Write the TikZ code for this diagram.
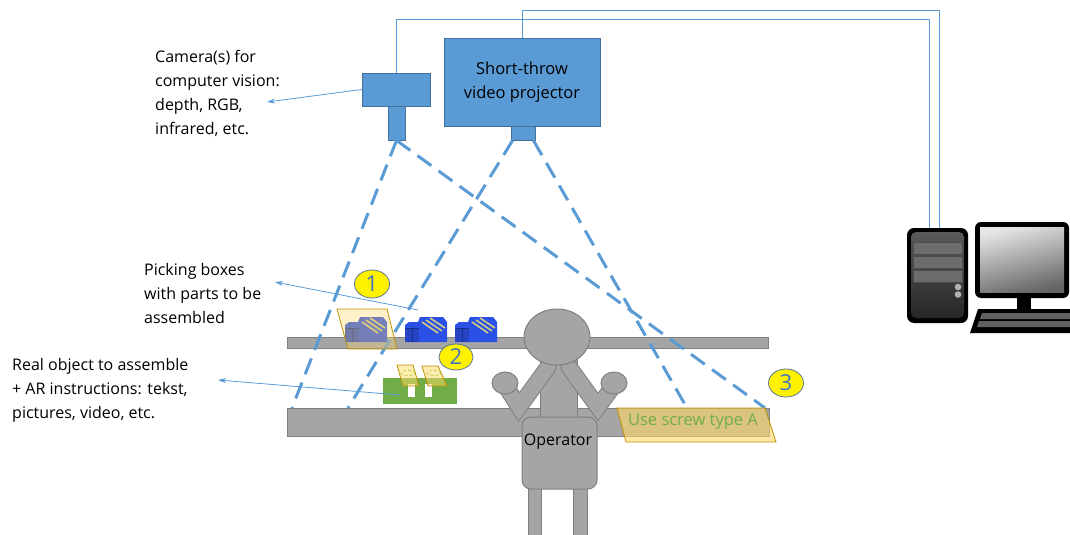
\documentclass[tikz,border=0pt]{standalone}
\usepackage{fontspec}
\setmainfont{Open Sans}
\usetikzlibrary{arrows.meta,shapes.geometric}

\definecolor{boxblue}{HTML}{5B9BD5}
\definecolor{boxedge}{HTML}{41719C}
\definecolor{rackgray}{HTML}{A5A5A5}
\definecolor{rackedge}{HTML}{7F7F7F}
\definecolor{binblue}{HTML}{2B50E6}
\definecolor{noteyellow}{HTML}{FFD966}
\definecolor{noteedge}{HTML}{BF9000}
\definecolor{partgreen}{HTML}{70AD47}
\definecolor{numblue}{HTML}{4472C4}

\tikzset{
    hw/.style={draw=boxedge, fill=boxblue, line width=0.8pt, inner sep=0pt},
    rack/.style={draw=rackedge, fill=rackgray, line width=1pt},
    beam/.style={boxblue, line width=3pt, dash pattern=on 17pt off 9pt},
    wire/.style={boxblue, line width=0.9pt},
    callout/.style={boxblue, line width=0.8pt, -{Stealth[length=8pt,width=5pt]}},
    overlay/.style={draw=noteedge, fill=noteyellow, fill opacity=0.5, line width=0.8pt},
    marker/.style={ellipse, draw=boxedge!60!gray, fill=yellow, inner sep=0pt,
        line width=0.8pt, minimum width=35pt, minimum height=28pt, text=numblue,
        font=\fontsize{22}{22}\selectfont},
    note/.style={anchor=north west, align=left, inner sep=0pt,
        font=\fontsize{16}{24}\selectfont},
    screw/.style={gray!55!yellow!80!white, line width=1.6pt},
    partbin/.pic={
        \fill[binblue] (0,0) -- (0,-17) -- (4,-20) -- (13,-20) -- (15,-25)
            -- (38,-25) -- (42,-20) -- (42,0) -- cycle;
        \fill[binblue!85!black] (0,0) rectangle (14,-14);
        \draw[binblue!60!black, line width=0.5pt] (7,0) -- (7,-14) (0,-14) -- (14,-14);
        \draw[screw] (17,-20) -- (33,-9);
        \draw[screw] (21,-22) -- (37,-11);
        \draw[screw] (25,-24) -- (40,-14);
    }
}

\begin{document}
\begin{tikzpicture}[x=1pt, y=-1pt]
    \useasboundingbox (0,0) rectangle (1070,535);

    % shelf and work table
    \draw[rack] (287,337) rectangle (768,348);
    \draw[rack] (287,408) rectangle (769,436);

    % camera and projector
    \node[hw, minimum width=68pt, minimum height=33pt] (cam) at (396,89.5) {};
    \node[hw, minimum width=17pt, minimum height=34pt] (camlens) at (396.5,123) {};
    \node[hw, minimum width=156pt, minimum height=88pt, align=center,
          font=\fontsize{16.5}{24}\selectfont] (proj) at (522,82) {Short-throw\\video projector};
    \node[hw, minimum width=24pt, minimum height=14pt] (projlens) at (523,133) {};

    % computer
    \coordinate (pcin1) at (929,229);
    \coordinate (pcin2) at (939,229);
    \draw[wire] (cam.north) -- ++(0,-53) -| (pcin1);
    \draw[wire] (proj.north) -- ++(0,-27) -| (pcin2);
    \fill[black, rounded corners=7pt] (907,228) rectangle (968,323);
    \shade[top color=gray!70!black, bottom color=black!85, rounded corners=5pt] (911,232) rectangle (964,318);
    \foreach \y in {242,256,270}
        \draw[black!70, fill=gray!85!black] (913,\y) rectangle (962,\y+12);
    \fill[gray!60] (958,287) circle (3.3pt) (958,294.5) circle (3.3pt);
    \fill[black, rounded corners=6pt] (975,222) rectangle (1069,298);
    \shade[top color=gray!20, bottom color=gray!80!black, shading angle=15] (980,227) rectangle (1064,292);
    \fill[black] (1017,297) rectangle (1031,311);
    \fill[black] (978,309) -- (1075,309) -- (1080,333) -- (970,333) -- cycle;
    \fill[gray!75!black] (982,313) -- (1072,313) -- (1074,319) -- (980,319) -- cycle;
    \fill[gray!75!black] (979,321) -- (1075,321) -- (1077,327) -- (977,327) -- cycle;

    % viewing and projection cones
    \coordinate (c1) at (292,408);
    \coordinate (c2) at (765,408);
    \coordinate (p1) at (348,408);
    \coordinate (p2) at (687,408);
    \draw[beam] (camlens.south) -- (c1);
    \draw[beam] (camlens.south) -- (c2);
    \draw[beam] ([xshift=2pt]projlens.south west) -- (p1);
    \draw[beam] ([xshift=-2pt]projlens.south east) -- (p2);

    % picking boxes
    \pic at (345,342) {partbin};
    \pic at (405,342) {partbin};
    \pic at (455,342) {partbin};
    \draw[overlay, fill opacity=0.35] (337,309) -- (387,309) -- (397,349) -- (348,349) -- cycle;

    % real object with projected parts
    \fill[partgreen] (383,378) rectangle (457,404);
    \fill[white] (408,384) rectangle (415,397);
    \fill[white] (425,384) rectangle (432,397);
    \draw[overlay] (397,365) -- (413,365) -- (419,386) -- (403,386) -- cycle;
    \draw[overlay] (422,366) -- (438,366) -- (447,386) -- (428,386) -- cycle;
    \draw[partgreen!60!yellow, densely dashed, line width=0.6pt]
        (408,373) ellipse [x radius=7pt, y radius=2.5pt]
        (434,373) ellipse [x radius=7pt, y radius=2.5pt];

    % operator
    \draw[rack] (528,480) rectangle (541,540);
    \draw[rack] (573,480) rectangle (587,540);
    \draw[rack] (540,355) rectangle (577,420);
    \foreach \s/\e/\h in {548/519/505, 569/598/614} {
        \draw[rackedge, line width=17pt, line cap=round] (\s,367) -- (\e,407) -- (\h,385);
        \draw[rackgray, line width=15pt, line cap=round] (\s,367) -- (\e,407) -- (\h,385);
        \draw[rack] (\h,383) ellipse [x radius=13pt, y radius=11pt];
    }
    \draw[rack] (557,337) ellipse [x radius=33pt, y radius=28pt];
    \draw[rack, rounded corners=9pt] (522,417) rectangle (597,489);
    \node[font=\fontsize{16}{20}\selectfont] (op) at (558,442) {Operator};

    % projected instruction
    \draw[overlay, fill opacity=0.6] (617,408) -- (765,408) -- (776,442) -- (626,442) -- cycle;
    \node[text=partgreen, font=\fontsize{16.5}{20}\selectfont] (hint) at (693,422) {Use screw type A};

    % numbered markers
    \node[marker] (m1) at (372,284) {1};
    \node[marker, minimum width=34pt, minimum height=26pt] (m2) at (456,357) {2};
    \node[marker] (m3) at (786,383) {3};

    % notes
    \node[note] (camnote) at (155,50) {Camera(s) for\\computer vision:\\depth, RGB,\\infrared, etc.};
    \node[note] (picknote) at (144,263) {Picking boxes\\with parts to be\\assembled};
    \node[note] (realnote) at (12,358) {Real object to assemble\\+ AR instructions: tekst,\\pictures, video, etc.};
    \coordinate (camtip) at (267,102);
    \coordinate (picktip) at (275,282);
    \coordinate (realtip) at (218,380);
    \coordinate (bintail) at (418,310);
    \coordinate (parttail) at (400,395);
    \draw[callout] (cam.west) -- (camtip);
    \draw[callout] (bintail) -- (picktip);
    \draw[callout] (parttail) -- (realtip);
\end{tikzpicture}
\end{document}
